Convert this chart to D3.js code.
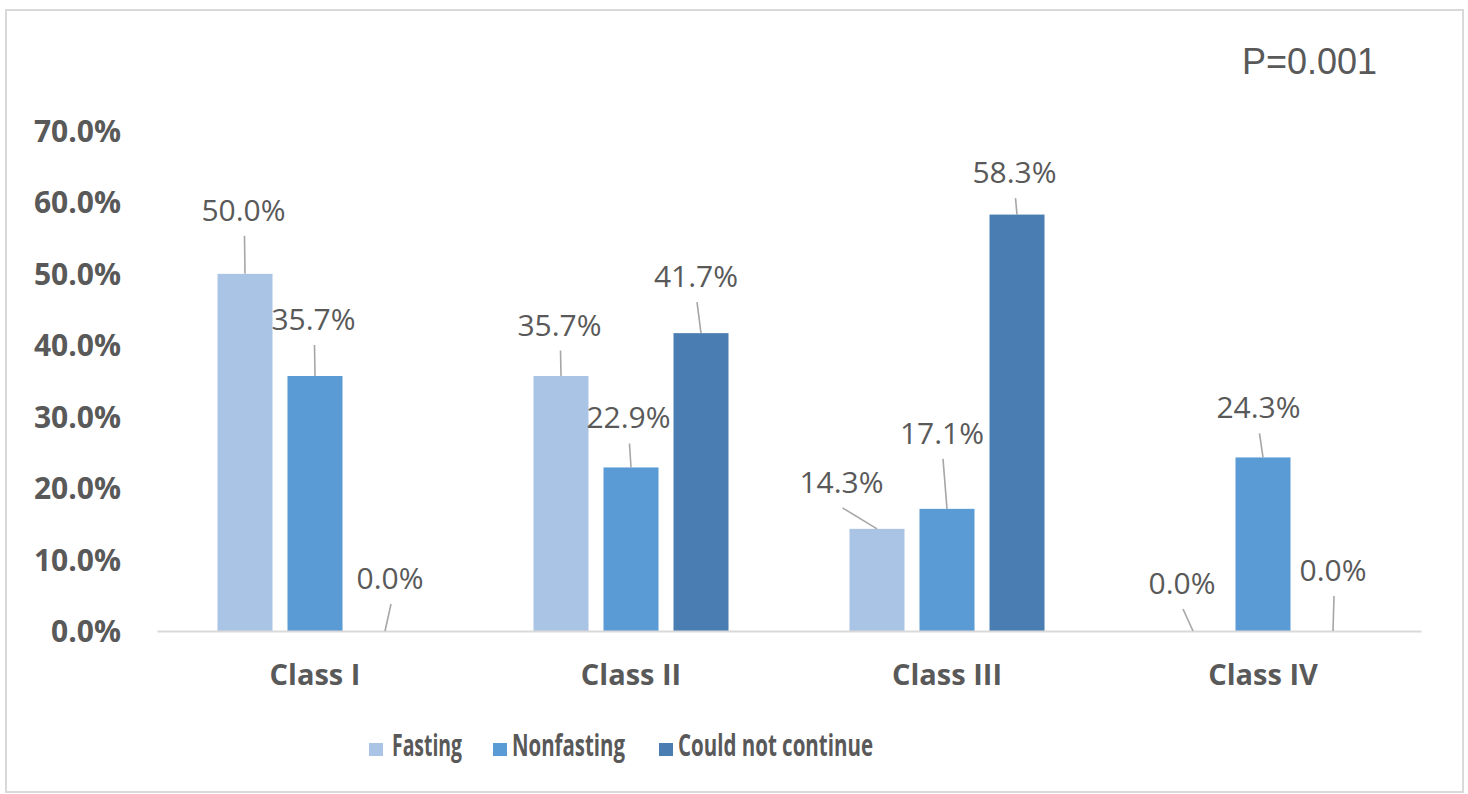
<!DOCTYPE html>
<html>
<head>
<meta charset="utf-8">
<script src="https://cdn.jsdelivr.net/npm/d3@7"></script>
<style>
  html, body { margin: 0; padding: 0; background: #ffffff; }
  svg { display: block; }
</style>
</head>
<body>
<svg id="chart" width="1468" height="794"></svg>
<script>
// Functional class distribution by fasting outcome (percent of each group)
const categories = ["Class I", "Class II", "Class III", "Class IV"];
const seriesNames = ["Fasting", "Nonfasting", "Could not continue"];
const fasting = [50.0, 35.7, 14.3, 0.0];
const nonfasting = [35.7, 22.9, 17.1, 24.3];
const couldNotContinue = [0.0, 41.7, 58.3, 0.0];
const yTicks = [0, 10, 20, 30, 40, 50, 60, 70];
const pValueText = "P=0.001";

// Label placement: offset of each label's centre from the top of its bar,
// per series, per category (labels were dragged clear of the bars).
const labelOffsets = [
  [[-1.5, -64], [-1.5, -51.5], [-35.5, -47], [-11, -48]],
  [[-1.5, -57], [-2.5, -50], [-5, -76], [-4.5, -50]],
  [[5, -53], [-5, -57], [-2.5, -42.5], [0, -61]]
];

const seriesValues = [fasting, nonfasting, couldNotContinue];
const colors = ["#a9c4e5", "#5b9bd5", "#4a7db2"];
const textColor = "#595959";

const svg = d3.select("#chart");

// chart frame
svg.append("rect")
  .attr("x", 6).attr("y", 10)
  .attr("width", 1457).attr("height", 782)
  .attr("fill", "#ffffff")
  .attr("stroke", "#d9d9d9")
  .attr("stroke-width", 2);

const plot = { left: 157, right: 1421, top: 131, bottom: 631 };

const x0 = d3.scaleBand()
  .domain(categories)
  .range([plot.left, plot.right])
  .paddingInner(0).paddingOuter(0);

const groupInset = 60.5;
const x1 = d3.scaleBand()
  .domain(seriesNames)
  .range([groupInset, x0.bandwidth() - groupInset])
  .paddingInner(15 / 70)
  .paddingOuter(0);

const y = d3.scaleLinear()
  .domain([0, 70])
  .range([plot.bottom, plot.top]);

// y-axis tick labels (no axis line or gridlines)
const yAxis = d3.axisLeft(y)
  .tickValues(yTicks)
  .tickSize(0)
  .tickPadding(0)
  .tickFormat(d => d3.format(".1f")(d) + "%");

const yg = svg.append("g")
  .attr("transform", `translate(121,0)`)
  .call(yAxis);
yg.select(".domain").remove();
yg.selectAll("text")
  .attr("fill", textColor)
  .attr("font-family", "'Open Sans', sans-serif")
  .attr("font-weight", 700)
  .attr("font-size", 30)
  .attr("dy", "0.35em");

// bars
const rows = [];
seriesNames.forEach((s, si) => {
  categories.forEach((c, ci) => {
    rows.push({ series: s, si, category: c, ci, value: seriesValues[si][ci] });
  });
});

svg.append("g").selectAll("rect")
  .data(rows)
  .join("rect")
  .attr("x", d => x0(d.category) + x1(d.series))
  .attr("y", d => y(d.value))
  .attr("width", x1.bandwidth())
  .attr("height", d => y(0) - y(d.value))
  .attr("fill", d => colors[d.si]);

// category axis
const xAxis = d3.axisBottom(x0).tickSize(0).tickPadding(0);
const xg = svg.append("g")
  .attr("transform", `translate(0,${plot.bottom})`)
  .call(xAxis);
xg.select(".domain")
  .attr("stroke", "#d9d9d9")
  .attr("stroke-width", 2);
xg.selectAll("text")
  .attr("y", 54)
  .attr("dy", 0)
  .attr("fill", textColor)
  .attr("font-family", "'Open Sans', sans-serif")
  .attr("font-weight", 700)
  .attr("font-size", 29);

// data labels with leader lines
const labels = svg.append("g");
rows.forEach(d => {
  const bx = x0(d.category) + x1(d.series) + x1.bandwidth() / 2;
  const by = y(d.value);
  const [dx, dy] = labelOffsets[d.si][d.ci];
  const cx = bx + dx, cy = by + dy;
  labels.append("line")
    .attr("x1", cx + 1).attr("y1", cy + 26)
    .attr("x2", bx).attr("y2", by)
    .attr("stroke", "#a6a6a6")
    .attr("stroke-width", 1.6);
  labels.append("text")
    .attr("x", cx).attr("y", cy + 11)
    .attr("text-anchor", "middle")
    .attr("fill", textColor)
    .attr("font-family", "'Open Sans', sans-serif")
    .attr("font-size", 30)
    .text(d3.format(".1f")(d.value) + "%");
});

// p-value annotation
svg.append("text")
  .attr("x", 1242).attr("y", 74)
  .attr("fill", textColor)
  .attr("font-family", "'Liberation Sans', Arial, sans-serif")
  .attr("font-size", 36)
  .text(pValueText);

// legend
const legendItems = [
  { swatch: 369, text: 392, width: 70 },
  { swatch: 493, text: 512, width: 113 },
  { swatch: 659, text: 678, width: 195 }
];
const legend = svg.append("g");
seriesNames.forEach((s, i) => {
  const it = legendItems[i];
  legend.append("rect")
    .attr("x", it.swatch).attr("y", 743)
    .attr("width", 14).attr("height", 13)
    .attr("fill", colors[i]);
  legend.append("text")
    .attr("x", it.text).attr("y", 756)
    .attr("fill", textColor)
    .attr("font-family", "'Open Sans', sans-serif")
    .attr("font-weight", 700)
    .attr("font-size", 31)
    .attr("textLength", it.width)
    .attr("lengthAdjust", "spacingAndGlyphs")
    .text(s);
});
</script>
</body>
</html>
